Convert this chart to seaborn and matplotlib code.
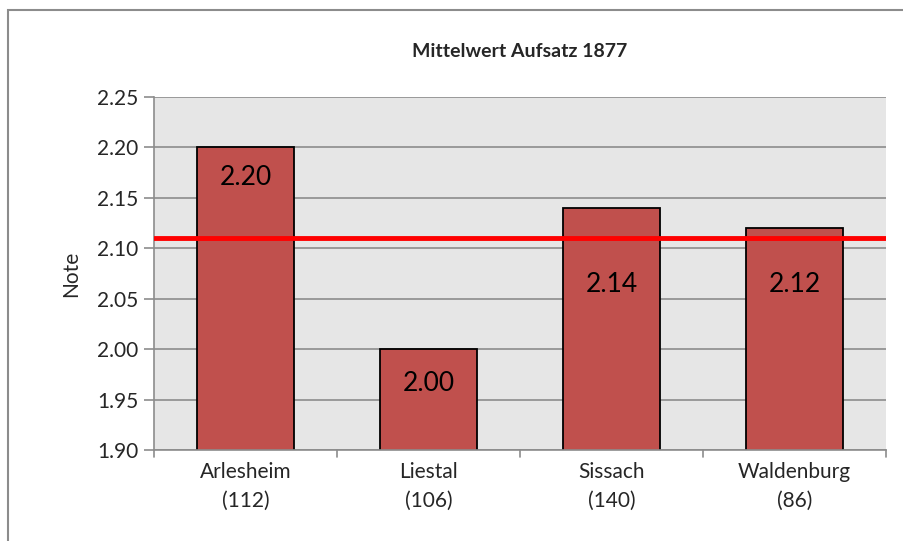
import matplotlib.pyplot as plt
import seaborn as sns
import pandas as pd
from matplotlib.patches import Rectangle

#chart data
districts = ['Arlesheim', 'Liestal', 'Sissach', 'Waldenburg']
counts = [112, 106, 140, 86]
means = [2.20, 2.00, 2.14, 2.12]
#where the value labels sit on the y axis
label_pos = [2.17, 1.966, 2.064, 2.064]
overall_mean = 2.11
yticks = [1.90, 1.95, 2.00, 2.05, 2.10, 2.15, 2.20, 2.25]

df = pd.DataFrame({'district': ['{}\n({})'.format(d, c) for d, c in zip(districts, counts)],
                   'mean': means})

sns.set_style('white')
plt.rcParams['font.family'] = ['Lato', 'DejaVu Sans']

fig = plt.figure(figsize=(9.04, 5.41), dpi=100)
ax = fig.add_axes([154/904, 1-450/541, (886-154)/904, (450-97)/541])
ax.set_facecolor('#e6e6e6')

#gridlines behind bars
for t in yticks:
    ax.axhline(t, color='#8c8c8c', lw=1.2, zorder=0)

sns.barplot(data=df, x='district', y='mean', color='#c0504d', saturation=1,
            width=0.53, edgecolor='black', linewidth=1.3, ax=ax, zorder=2)

#overall mean line
ax.axhline(overall_mean, color='#ff0000', lw=3.5, zorder=3)

#value labels inside bars
for i in range(len(means)):
    ax.text(i, label_pos[i], '{:.2f}'.format(means[i]), ha='center', va='center',
            fontsize=19, color='black', zorder=4)

ax.set_ylim(1.90, 2.25)
ax.set_xlim(-0.5, 3.5)
ax.set_yticks(yticks)
ax.set_yticklabels(['{:.2f}'.format(t) for t in yticks], fontsize=15)
ax.set_xticks([0, 1, 2, 3])
ax.set_xticklabels(df['district'], fontsize=15, linespacing=1.5)
ax.tick_params(axis='x', length=0, pad=9)
ax.tick_params(axis='y', length=7, width=1.2, color='#8c8c8c', left=True, pad=4)

#category boundary ticks on the x axis
for b in [-0.5, 0.5, 1.5, 2.5, 3.5]:
    ax.plot([b, b], [0, -0.02], transform=ax.get_xaxis_transform(), color='#8c8c8c',
            lw=1.2, clip_on=False)

for s in ['top', 'right']:
    ax.spines[s].set_visible(False)
for s in ['left', 'bottom']:
    ax.spines[s].set_color('#8c8c8c')
    ax.spines[s].set_linewidth(1.2)

ax.set_xlabel('')
ax.set_ylabel('Note', fontsize=15, labelpad=12)
ax.set_title('Mittelwert Aufsatz 1877', fontsize=14, fontweight='bold', pad=29)

#outer chart border
fig.patches.append(Rectangle((8/904, -0.1), 1.0, 1-10/541+0.1, transform=fig.transFigure,
                             fill=False, edgecolor='#8c8c8c', lw=1.5))

plt.savefig('out.png', dpi=100)
